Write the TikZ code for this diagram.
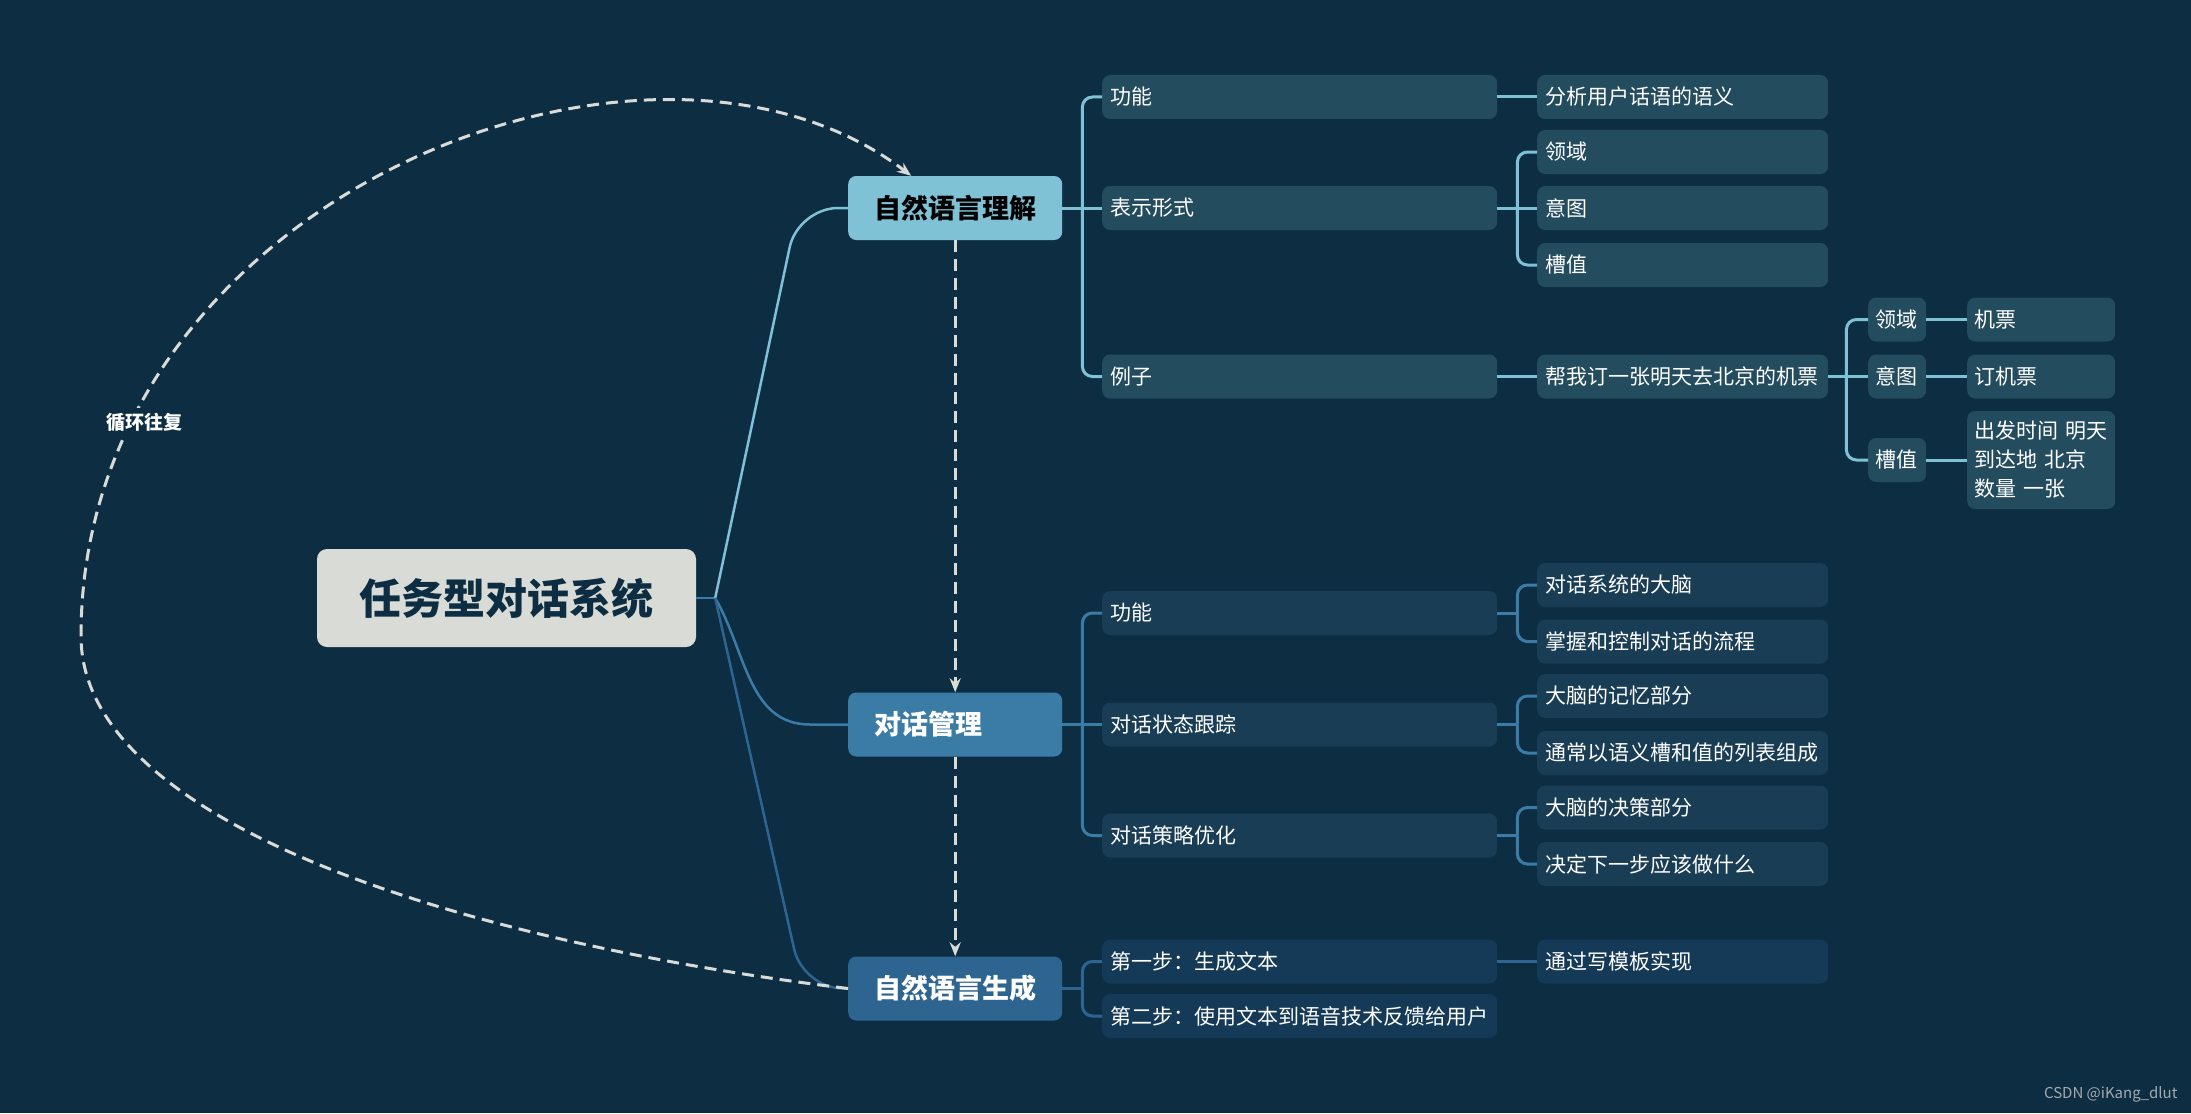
\documentclass[tikz,border=0pt]{standalone}
\usepackage{fontspec}
\setmainfont{Noto Sans CJK SC}
\usetikzlibrary{arrows.meta}

\definecolor{bg}{HTML}{0D2D42}
\definecolor{rootfill}{HTML}{D9DCD6}
\definecolor{nlucol}{HTML}{7FC1D5}
\definecolor{dmcol}{HTML}{3B7CA6}
\definecolor{nlgcol}{HTML}{2D6590}
\definecolor{nlubox}{HTML}{244C5F}
\definecolor{dmbox}{HTML}{183D55}
\definecolor{nlgbox}{HTML}{153A57}
\definecolor{loopcol}{HTML}{D9DCD6}
\definecolor{markcol}{HTML}{A3AAB0}

\tikzstyle{root}=[fill=rootfill, rounded corners=10pt, text=bg, font=\bfseries\fontsize{42}{50}\selectfont, minimum width=379pt, minimum height=98pt]
\tikzstyle{topic}=[rounded corners=8pt, anchor=west, font=\bfseries\fontsize{27}{32}\selectfont, text width=162pt, align=left, inner xsep=26pt, minimum height=64pt]
\tikzstyle{sub}=[rounded corners=8pt, anchor=west, text=white, font=\fontsize{21}{29}\selectfont, align=left, inner xsep=8pt, inner ysep=0pt, minimum height=44pt]
\tikzstyle{lvlb}=[sub, text width=379pt]
\tikzstyle{lvlc}=[sub, text width=275pt]
\tikzstyle{lvld}=[sub, text width=44pt, inner xsep=7pt]
\tikzstyle{lvle}=[sub, text width=134pt, inner xsep=7pt]
\tikzstyle{flow}=[draw=loopcol, line width=3pt, dash pattern=on 12pt off 7pt, -{Stealth[length=14pt,width=11pt]}]
\tikzstyle{looplabel}=[fill=bg, text=white, font=\bfseries\fontsize{19}{22}\selectfont, inner sep=5pt]

\begin{document}
\begin{tikzpicture}[x=1pt, y=-1pt]
    \fill[bg] (0,0) rectangle (2191,1113);
    \useasboundingbox (0,0) rectangle (2191,1113);

    \node[root](root) at (506.5, 598) {任务型对话系统};

    \node[topic, fill=nlucol, text=black](nlu) at (848, 208) {自然语言理解};
    \node[topic, fill=dmcol, text=white](dm) at (848, 724.5) {对话管理};
    \node[topic, fill=nlgcol, text=white](nlg) at (848, 988.5) {自然语言生成};

    % 自然语言理解
    \node[lvlb, fill=nlubox](nlu-func) at (1102, 97) {功能};
    \node[lvlb, fill=nlubox](nlu-form) at (1102, 208) {表示形式};
    \node[lvlb, fill=nlubox](nlu-eg) at (1102, 376.5) {例子};

    \node[lvlc, fill=nlubox](func-sem) at (1537, 97) {分析用户话语的语义};
    \node[lvlc, fill=nlubox](form-dom) at (1537, 152) {领域};
    \node[lvlc, fill=nlubox](form-int) at (1537, 208) {意图};
    \node[lvlc, fill=nlubox](form-slot) at (1537, 265) {槽值};
    \node[lvlc, fill=nlubox](eg-sent) at (1537, 376.5) {帮我订一张明天去北京的机票};

    \node[lvld, fill=nlubox](eg-dom) at (1868, 319.5) {领域};
    \node[lvld, fill=nlubox](eg-int) at (1868, 376.5) {意图};
    \node[lvld, fill=nlubox](eg-slot) at (1868, 460) {槽值};

    \node[lvle, fill=nlubox](dom-val) at (1967, 319.5) {机票};
    \node[lvle, fill=nlubox](int-val) at (1967, 376.5) {订机票};
    \node[lvle, fill=nlubox, minimum height=98pt](slot-val) at (1967, 460) {出发时间 明天\\到达地 北京\\数量 一张};

    % 对话管理
    \node[lvlb, fill=dmbox](dm-func) at (1102, 613) {功能};
    \node[lvlb, fill=dmbox](dm-dst) at (1102, 724.5) {对话状态跟踪};
    \node[lvlb, fill=dmbox](dm-dpo) at (1102, 835.5) {对话策略优化};

    \node[lvlc, fill=dmbox](func-brain) at (1537, 585) {对话系统的大脑};
    \node[lvlc, fill=dmbox](func-flow) at (1537, 641.5) {掌握和控制对话的流程};
    \node[lvlc, fill=dmbox](dst-mem) at (1537, 696) {大脑的记忆部分};
    \node[lvlc, fill=dmbox](dst-list) at (1537, 753) {通常以语义槽和值的列表组成};
    \node[lvlc, fill=dmbox](dpo-dec) at (1537, 807.5) {大脑的决策部分};
    \node[lvlc, fill=dmbox](dpo-next) at (1537, 864) {决定下一步应该做什么};

    % 自然语言生成
    \node[lvlb, fill=nlgbox](nlg-one) at (1102, 961.5) {第一步：生成文本};
    \node[lvlb, fill=nlgbox](nlg-two) at (1102, 1016) {第二步：使用文本到语音技术反馈给用户};
    \node[lvlc, fill=nlgbox](one-tpl) at (1537, 961.5) {通过写模板实现};

    \node[anchor=east, text=markcol, font=\fontsize{15}{18}\selectfont](mark) at (2181, 1094) {CSDN @iKang\_dlut};

    \begin{scope}[line width=2.5pt, rounded corners=40pt]
        \draw[dmcol] (root.east) -- ++(19,0) coordinate (root-s);
        \draw[nlucol] (root-s) -- ([xshift=-50pt]nlu.west) -- (nlu.west);
        \draw[dmcol, sharp corners] (root-s) to[out=-60, in=180] ([xshift=-38pt]dm.west) -- (dm.west);
        \draw[nlgcol] (root-s) -- ([xshift=-45pt]nlg.west) -- (nlg.west);
    \end{scope}

    \begin{scope}[line width=3pt, rounded corners=10pt]
        \draw[nlucol] (nlu.east) -- ++(20,0) coordinate (nlu-s);
        \draw[nlucol] (nlu-s) |- (nlu-func.west);
        \draw[nlucol] (nlu-s) -- (nlu-form.west);
        \draw[nlucol] (nlu-s) |- (nlu-eg.west);

        \draw[nlucol] (nlu-func) -- (func-sem);
        \draw[nlucol] (nlu-form.east) -- ++(20,0) coordinate (form-s);
        \draw[nlucol] (form-s) |- (form-dom.west);
        \draw[nlucol] (form-s) -- (form-int.west);
        \draw[nlucol] (form-s) |- (form-slot.west);
        \draw[nlucol] (nlu-eg) -- (eg-sent);

        \draw[nlucol] (eg-sent.east) -- ++(18,0) coordinate (sent-s);
        \draw[nlucol] (sent-s) |- (eg-dom.west);
        \draw[nlucol] (sent-s) -- (eg-int.west);
        \draw[nlucol] (sent-s) |- (eg-slot.west);
        \draw[nlucol] (eg-dom) -- (dom-val);
        \draw[nlucol] (eg-int) -- (int-val);
        \draw[nlucol] (eg-slot) -- (slot-val);

        \draw[dmcol] (dm.east) -- ++(20,0) coordinate (dm-s);
        \draw[dmcol] (dm-s) |- (dm-func.west);
        \draw[dmcol] (dm-s) -- (dm-dst.west);
        \draw[dmcol] (dm-s) |- (dm-dpo.west);

        \draw[dmcol] (dm-func.east) -- ++(20,0) coordinate (dfunc-s);
        \draw[dmcol] (dfunc-s) |- (func-brain.west);
        \draw[dmcol] (dfunc-s) |- (func-flow.west);
        \draw[dmcol] (dm-dst.east) -- ++(20,0) coordinate (dst-s);
        \draw[dmcol] (dst-s) |- (dst-mem.west);
        \draw[dmcol] (dst-s) |- (dst-list.west);
        \draw[dmcol] (dm-dpo.east) -- ++(20,0) coordinate (dpo-s);
        \draw[dmcol] (dpo-s) |- (dpo-dec.west);
        \draw[dmcol] (dpo-s) |- (dpo-next.west);

        \draw[nlgcol] (nlg.east) -- ++(20,0) coordinate (nlg-s);
        \draw[nlgcol] (nlg-s) |- (nlg-one.west);
        \draw[nlgcol] (nlg-s) |- (nlg-two.west);
        \draw[nlgcol] (nlg-one) -- (one-tpl);
    \end{scope}

    \draw[flow] (nlu.south) -- (dm.north);
    \draw[flow] (dm.south) -- (nlg.north);

    \coordinate (loop-left) at (81, 636);
    \draw[flow] (nlg.west) .. controls (450, 940) and (81, 820) .. (loop-left)
        .. controls (81, 200) and (647, -25) .. ([xshift=-44pt]nlu.north)
        node[pos=0.18, xshift=14pt, looplabel](loop) {循环往复};
\end{tikzpicture}
\end{document}
